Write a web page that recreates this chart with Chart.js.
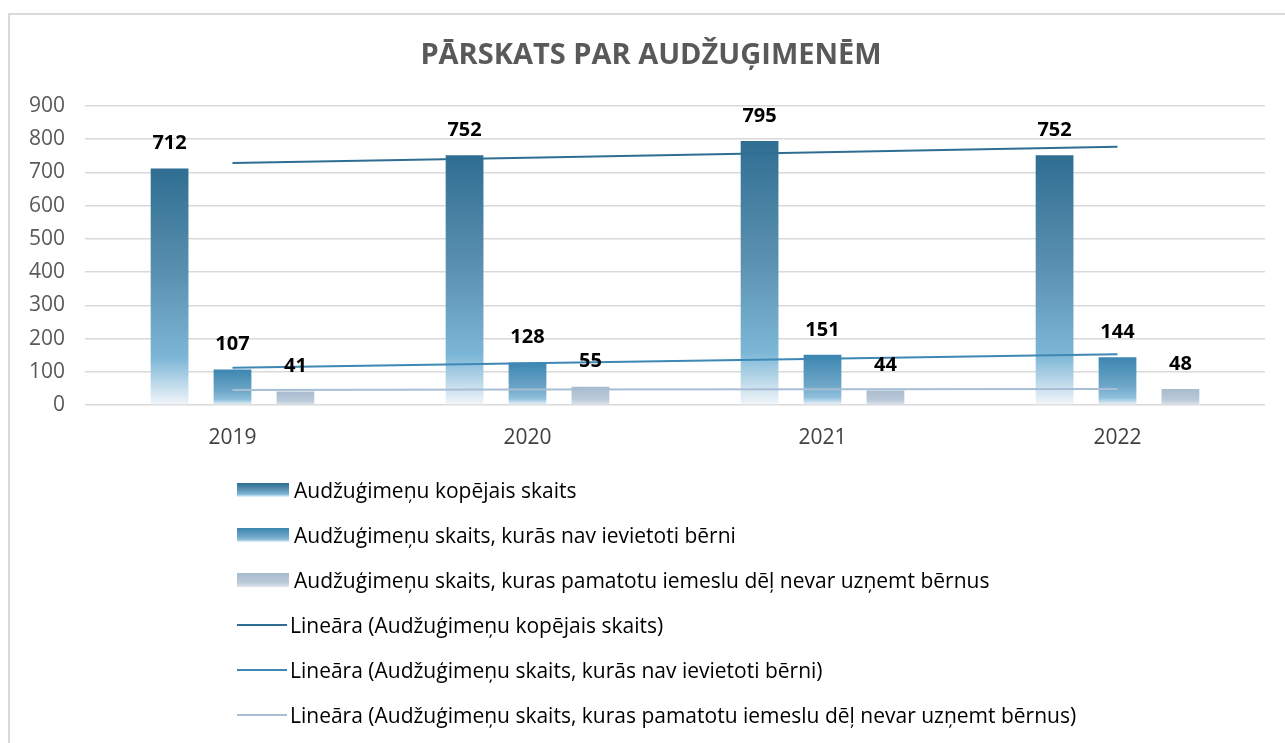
<!DOCTYPE html>
<html>
<head>
<meta charset="utf-8">
<script src="https://cdn.jsdelivr.net/npm/chart.js@4"></script>
<style>
  body { margin: 0; background: #fff; font-family: "Open Sans", sans-serif; }
  #wrap { position: relative; width: 1285px; height: 743px; overflow: hidden; }
  #frame { position: absolute; left: 8px; top: 13px; width: 1300px; height: 760px; border: 2px solid #d9d9d9; box-sizing: border-box; }
  canvas { position: absolute; left: 0; top: 0; }
  #title { position: absolute; left: 451px; width: 400px; top: 38px; line-height: 29px; text-align: center; white-space: nowrap;
           font-size: 29px; font-weight: bold; color: #595959; display: flex; justify-content: center; }
  #legend { position: absolute; left: 237px; top: 475px; }
  .item { position: absolute; left: 0; height: 30px; display: flex; align-items: center; white-space: nowrap; font-size: 21px; color: #000; }
  .sw { width: 52px; height: 14px; margin-right: 5px; }
  .ln { width: 50px; height: 2px; margin-right: 3px; }
</style>
</head>
<body>
<div id="wrap">
  <div id="frame"></div>
  <canvas id="chart" width="1285" height="743"></canvas>
  <div id="title">PĀRSKATS PAR AUDŽUĢIMENĒM</div>
  <div id="legend"></div>
</div>
<script>
// chart data
const years = ['2019', '2020', '2021', '2022'];
const totalFamilies = [712, 752, 795, 752];
const withoutChildren = [107, 128, 151, 144];
const cannotAccept = [41, 55, 44, 48];

const seriesNames = [
    'Audžuģimeņu kopējais skaits',
    'Audžuģimeņu skaits, kurās nav ievietoti bērni',
    'Audžuģimeņu skaits, kuras pamatotu iemeslu dēļ nevar uzņemt bērnus'
];

const yTicks = [0, 100, 200, 300, 400, 500, 600, 700, 800, 900];

// gradient colour stops per bar series
const barStops = [
    [[0, '#2f6e92'], [0.45, '#5b91b0'], [0.8, '#7cb6d6'], [1, '#f2f6fa']],
    [[0, '#3c86b0'], [0.6, '#6ea6c8'], [0.85, '#8fc0dc'], [1, '#f2f6fa']],
    [[0, '#a8bbcf'], [0.7, '#bccad9'], [1, '#dfe6ee']]
];
const lineColors = ['#2f6e92', '#3d88b5', '#a7bed4'];

// simple least squares fit, same as the spreadsheet "linear" trendline
function linearTrend(values) {
    const n = values.length;
    const mx = (n - 1) / 2;
    const my = values.reduce((a, b) => a + b, 0) / n;
    let sxy = 0, sxx = 0;
    values.forEach((v, i) => { sxy += (i - mx) * (v - my); sxx += (i - mx) * (i - mx); });
    const k = sxy / sxx;
    return values.map((v, i) => my + k * (i - mx));
}

function barGradient(stops) {
    return (c) => {
        const chart = c.chart;
        if (!chart.chartArea || c.type !== 'data') return stops[0][1];
        const y = chart.scales.y;
        const top = y.getPixelForValue(c.raw);
        const base = y.getPixelForValue(0);
        const g = chart.ctx.createLinearGradient(0, top, 0, base);
        stops.forEach(s => g.addColorStop(s[0], s[1]));
        return g;
    };
}

// draws the bold numbers above the bars
const valueLabels = {
    id: 'valueLabels',
    afterDatasetsDraw(chart) {
        const ctx = chart.ctx;
        ctx.save();
        ctx.font = 'bold 20px "Open Sans"';
        ctx.fillStyle = '#000';
        ctx.textAlign = 'center';
        ctx.textBaseline = 'middle';
        chart.data.datasets.forEach((ds, i) => {
            if (ds.type === 'line') return;
            chart.getDatasetMeta(i).data.forEach((bar, j) => {
                ctx.fillText(ds.data[j], bar.x, bar.y - 25);
            });
        });
        ctx.restore();
    }
};

const barSets = [totalFamilies, withoutChildren, cannotAccept];

const datasets = barSets.map((vals, i) => ({
    type: 'bar',
    label: seriesNames[i],
    data: vals,
    backgroundColor: barGradient(barStops[i]),
    barPercentage: 0.6,
    categoryPercentage: 0.64,
    order: 2
}));

barSets.forEach((vals, i) => {
    datasets.push({
        type: 'line',
        label: 'Lineāra (' + seriesNames[i] + ')',
        data: linearTrend(vals),
        borderColor: lineColors[i],
        borderWidth: 2,
        pointRadius: 0,
        fill: false,
        order: 1
    });
});

const chart = new Chart(document.getElementById('chart').getContext('2d'), {
    data: { labels: years, datasets: datasets },
    plugins: [valueLabels],
    options: {
        responsive: false,
        animation: false,
        layout: { padding: { left: 0, right: 20, top: 106, bottom: 288 } },
        plugins: {
            legend: { display: false },
            tooltip: { enabled: false },
            title: { display: false }
        },
        scales: {
            x: {
                grid: { display: false, drawTicks: false },
                border: { display: false },
                ticks: { color: '#404040', font: { family: '"Open Sans"', size: 21 }, padding: 20 },
                afterFit: (s) => { s.height = 50; }
            },
            y: {
                min: 0,
                max: 900,
                afterBuildTicks: (s) => { s.ticks = yTicks.map(v => ({ value: v })); },
                grid: { color: '#d9d9d9', lineWidth: 1.5, drawTicks: false },
                border: { display: false },
                ticks: { color: '#595959', font: { family: '"Open Sans"', size: 21 }, padding: 20 },
                afterFit: (s) => { s.width = 85; }
            }
        }
    }
});

// legend list below the chart
const legend = document.getElementById('legend');
chart.data.datasets.forEach((ds, i) => {
    const row = document.createElement('div');
    row.className = 'item';
    row.style.top = (i * 45) + 'px';
    const sw = document.createElement('span');
    if (ds.type === 'line') {
        sw.className = 'ln';
        sw.style.background = ds.borderColor;
    } else {
        sw.className = 'sw';
        sw.style.background = 'linear-gradient(' + barStops[i].map(s => s[1] + ' ' + (s[0] * 100) + '%').join(', ') + ')';
    }
    row.appendChild(sw);
    const txt = document.createElement('span');
    txt.textContent = ds.label;
    row.appendChild(txt);
    legend.appendChild(row);
});
</script>
</body>
</html>
